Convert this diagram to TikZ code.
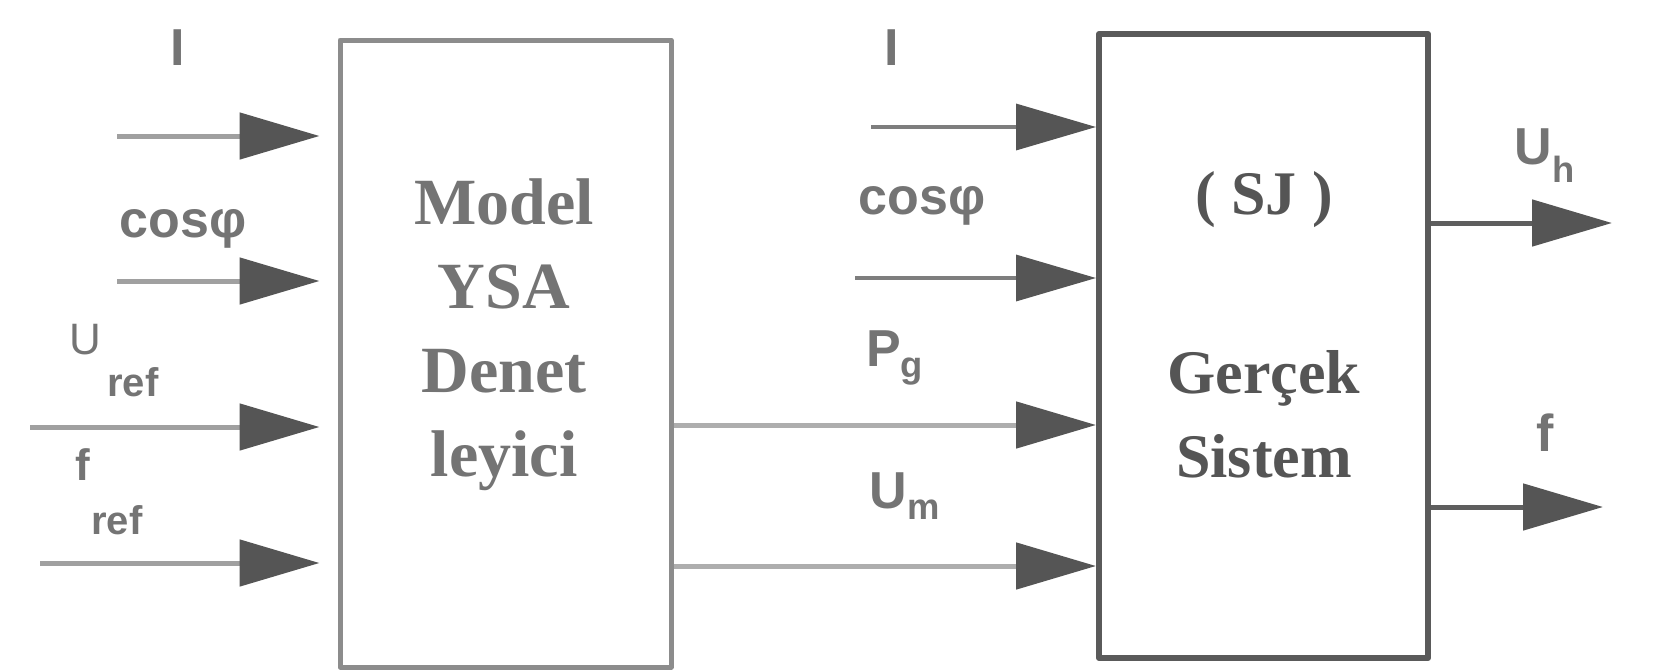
\documentclass[tikz,border=0pt]{standalone}
\usepackage{fontspec}
\setmainfont{Liberation Serif}
\setsansfont{Liberation Sans}
\usetikzlibrary{arrows.meta,positioning}
\definecolor{textgray}{HTML}{747474}
\definecolor{leftbox}{HTML}{8C8C8C}
\definecolor{rightbox}{HTML}{5A5A5A}
\definecolor{linegray}{HTML}{A0A0A0}
\definecolor{headgray}{HTML}{555555}
\definecolor{darkline}{HTML}{5E5E5E}
\begin{document}
\begin{tikzpicture}[x=1pt, y=-1pt, line join=round,
    box/.style={draw, line width=5pt, inner sep=0pt},
    boxtext/.style={text=textgray, font=\fontsize{66}{84}\selectfont\bfseries, align=center},
    systext/.style={text=headgray, font=\fontsize{62}{84}\selectfont\bfseries, align=center},
    sig/.style={text=textgray, font=\fontsize{52}{60}\selectfont\sffamily\bfseries, inner sep=0pt},
    small/.style={text=textgray, font=\fontsize{40}{48}\selectfont\sffamily\bfseries, inner sep=0pt},
    feed/.style={line width=5pt, draw=linegray, -{Triangle[length=80pt,width=46pt,color=headgray]}},
    thin feed/.style={feed, line width=3.5pt, draw=darkline!80},
    out feed/.style={feed, draw=darkline}]
    \useasboundingbox (0,0) rectangle (1665,670);
    % blocks
    \node[box, draw=leftbox, minimum width=331pt, minimum height=627pt] (model) at (505.5,353.5) {};
    \node[box, draw=rightbox, line width=6pt, minimum width=329pt, minimum height=624pt] (real) at (1263.5,346) {};
    \node[boxtext] (modeltxt) at (504,335) {Model\\YSA\\Denet\\leyici};
    \node[systext] (sj) at (1264,200) {( SJ )};
    \node[systext] (realtxt) at (1264,414) {Gerçek\\Sistem};
    % inputs of the model
    \coordinate (in1) at (117,136);
    \coordinate (in2) at (117,281);
    \coordinate (in3) at (30,427);
    \coordinate (in4) at (40,563);
    \foreach \i in {1,...,4}
        \draw[feed, shorten >=18pt] (in\i) -- (model.west |- in\i);
    \node[sig] (lI) at (178,48) {I};
    \node[sig] (lcos) at (183,229) {cosφ};
    \node[sig, font=\fontsize{44}{48}\selectfont\sffamily] (lU) at (85,340) {U};
    \node[small] (lUref) at (133,382) {ref};
    \node[small, font=\fontsize{44}{48}\selectfont\sffamily\bfseries] (lf) at (83,465) {f};
    \node[small] (lfref) at (117,520) {ref};
    % inputs of the real system
    \coordinate (mid1) at (871,127);
    \coordinate (mid2) at (855,278);
    \coordinate (mid3) at (671,425);
    \coordinate (mid4) at (671,566);
    \draw[thin feed] (mid1) -- (real.west |- mid1);
    \draw[thin feed] (mid2) -- (real.west |- mid2);
    \draw[feed, draw=linegray!85] (model.east |- mid3) -- (real.west |- mid3);
    \draw[feed, draw=linegray!85] (model.east |- mid4) -- (real.west |- mid4);
    \node[sig] (mI) at (892,48) {I};
    \node[sig] (mcos) at (922,206) {cosφ};
    \node[sig] (mP) at (895,358) {P\textsubscript{g}};
    \node[sig] (mU) at (905,496) {U\textsubscript{m}};
    % outputs
    \coordinate (outU) at (1612,223);
    \coordinate (outf) at (1603,507);
    \draw[out feed] (real.east |- outU) -- (outU);
    \draw[out feed] (real.east |- outf) -- (outf);
    \node[sig] (oU) at (1545,156) {U\textsubscript{h}};
    \node[sig] (of) at (1545,433) {f};
\end{tikzpicture}
\end{document}
